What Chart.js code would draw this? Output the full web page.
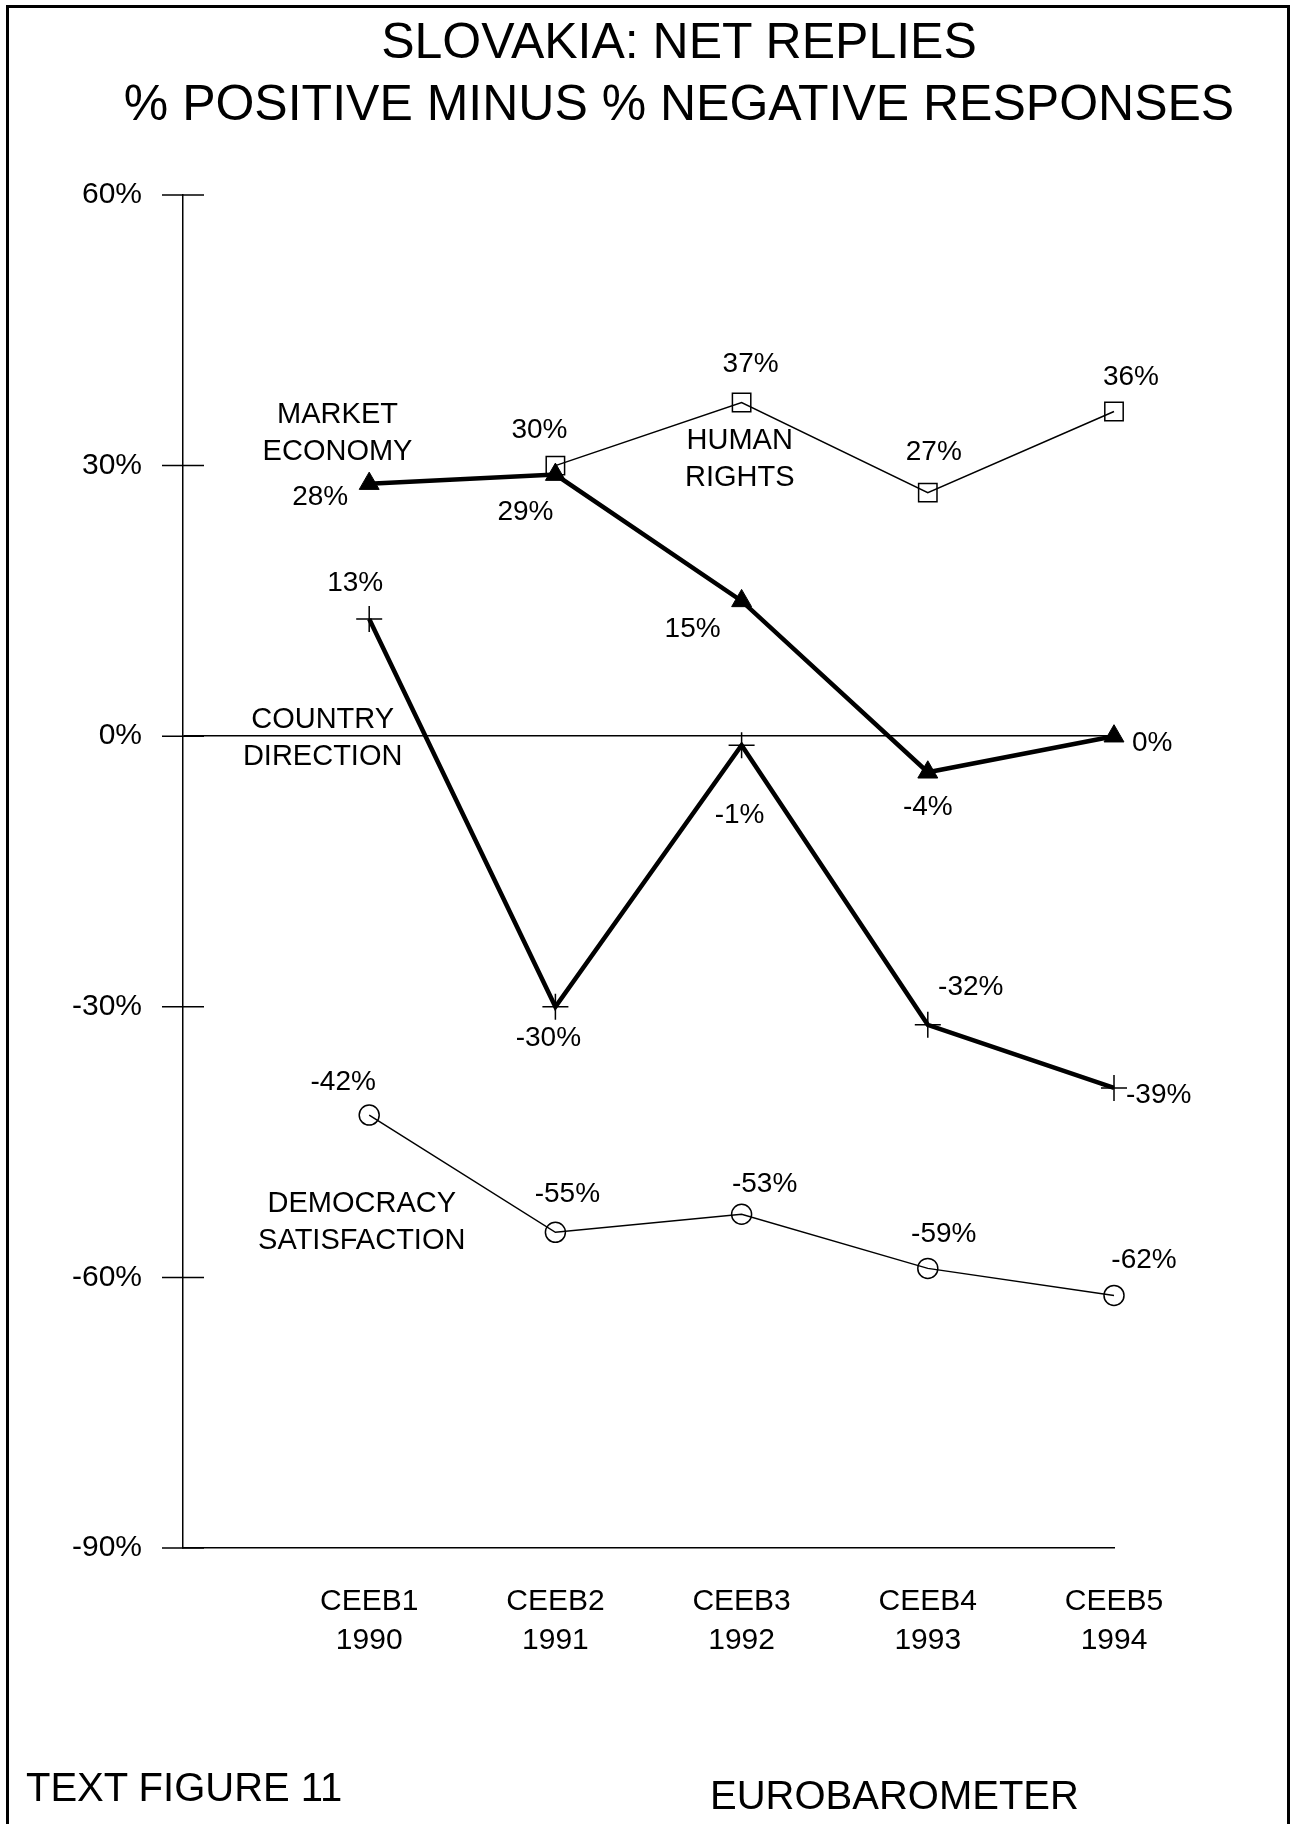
<!DOCTYPE html>
<html>
<head>
<meta charset="utf-8">
<script src="https://cdn.jsdelivr.net/npm/chart.js@4/dist/chart.umd.min.js"></script>
<style>
  html, body { margin: 0; padding: 0; background: #fff; }
  #wrap { position: relative; width: 1290px; height: 1824px; overflow: hidden; }
  #frame { position: absolute; left: 6px; top: 5px; width: 1278px; height: 1830px;
           border-left: 3px solid #000; border-top: 3px solid #000; border-right: 3px solid #000; }
  canvas { position: absolute; left: 0; top: 0; }
  .t { position: absolute; font-family: "Liberation Sans", Arial, Helvetica, sans-serif; color: #000; white-space: nowrap; }
  #title1 { left: 0; width: 1358px; text-align: center; top: 12px; font-size: 50px; }
  #title2 { left: 0; width: 1358px; text-align: center; top: 74px; font-size: 50px; }
  #foot1 { left: 26px; top: 1765px; font-size: 40px; }
  #foot2 { left: 710px; top: 1773px; font-size: 40px; }
</style>
</head>
<body>
<div id="wrap">
  <canvas id="c" width="1290" height="1824"></canvas>
  <div id="frame"></div>
  <div class="t" id="title1">SLOVAKIA: NET REPLIES</div>
  <div class="t" id="title2">% POSITIVE MINUS % NEGATIVE RESPONSES</div>
  <div class="t" id="foot1">TEXT FIGURE 11</div>
  <div class="t" id="foot2">EUROBAROMETER</div>
</div>
<script>
// ---- data ----
const surveys = ['CEEB1', 'CEEB2', 'CEEB3', 'CEEB4', 'CEEB5'];
const years = ['1990', '1991', '1992', '1993', '1994'];
const humanRights = [null, 30, 37, 27, 36];
const marketEconomy = [28, 29, 15, -4, 0];
const countryDirection = [13, -30, -1, -32, -39];
const democracySatisfaction = [-42, -55, -53, -59, -62];
const yTicks = [60, 30, 0, -30, -60, -90];

// ---- label placement (pixel offsets from each point; styling only) ----
const hrOffsets = [null, [-16, -35], [9, -38], [6, -40], [17, -34]];
const meOffsets = [[-49, 14], [-30, 38], [-49, 28], [0, 35], [18, 7, 'left']];
const cdOffsets = [[-14, -36], [-7, 31], [-2, 70], [43, -38], [12, 7, 'left']];
const dsOffsets = [[-26, -33], [12, -38], [23, -30], [16, -34], [30, -35]];

// series name annotations, anchored in data units (x = category position, y = %)
const seriesNames = [
  { lines: ['MARKET', 'ECONOMY'], x: 0.83, y: 33.6 },
  { lines: ['HUMAN', 'RIGHTS'], x: 2.99, y: 30.7 },
  { lines: ['COUNTRY', 'DIRECTION'], x: 0.75, y: -0.2 },
  { lines: ['DEMOCRACY', 'SATISFACTION'], x: 0.96, y: -53.9 }
];

const FONT = '"Liberation Sans", Arial, Helvetica, sans-serif';

function pts(arr) {
  return arr.map((v, i) => (v === null ? null : { x: i + 1, y: v })).filter(p => p !== null);
}

const datasets = [
  { label: 'HUMAN RIGHTS', data: pts(humanRights), borderColor: '#000', borderWidth: 1.5,
    pointStyle: 'rect', pointRadius: 13, pointBorderWidth: 1.5,
    pointBackgroundColor: 'rgba(0,0,0,0)', pointBorderColor: '#000', offsets: hrOffsets.filter(o => o) },
  { label: 'MARKET ECONOMY', data: pts(marketEconomy), borderColor: '#000', borderWidth: 4.5,
    pointStyle: 'triangle', pointRadius: 11.5, pointBorderWidth: 1,
    pointBackgroundColor: '#000', pointBorderColor: '#000', offsets: meOffsets },
  { label: 'COUNTRY DIRECTION', data: pts(countryDirection), borderColor: '#000', borderWidth: 4.5,
    pointStyle: 'cross', pointRadius: 13, pointBorderWidth: 1.5,
    pointBackgroundColor: 'rgba(0,0,0,0)', pointBorderColor: '#000', offsets: cdOffsets },
  { label: 'DEMOCRACY SATISFACTION', data: pts(democracySatisfaction), borderColor: '#000', borderWidth: 1.5,
    pointStyle: 'circle', pointRadius: 10, pointBorderWidth: 1.5,
    pointBackgroundColor: 'rgba(0,0,0,0)', pointBorderColor: '#000', offsets: dsOffsets }
];

const decorPlugin = {
  id: 'decor',
  afterDatasetsDraw(chart) {
    const ctx = chart.ctx;
    const ys = chart.scales.y, xs = chart.scales.x;
    const ax = xs.getPixelForValue(0);
    ctx.save();
    // crossing tick marks on the y axis
    ctx.strokeStyle = '#000';
    ctx.lineWidth = 1.5;
    yTicks.forEach(v => {
      const py = ys.getPixelForValue(v);
      ctx.beginPath();
      ctx.moveTo(ax - 21, py);
      ctx.lineTo(ax + 21, py);
      ctx.stroke();
    });
    // value labels
    ctx.fillStyle = '#000';
    ctx.font = '28px ' + FONT;
    ctx.textBaseline = 'middle';
    chart.data.datasets.forEach((ds, di) => {
      const meta = chart.getDatasetMeta(di);
      meta.data.forEach((el, i) => {
        const o = ds.offsets[i];
        const v = ds.data[i].y;
        ctx.textAlign = o[2] === 'left' ? 'left' : 'center';
        ctx.fillText(v + '%', el.x + o[0], el.y + o[1]);
      });
    });
    // series names
    ctx.textAlign = 'center';
    ctx.font = '29px ' + FONT;
    seriesNames.forEach(s => {
      const px = xs.getPixelForValue(s.x);
      const py = ys.getPixelForValue(s.y);
      const lh = 37;
      const y0 = py - (s.lines.length - 1) * lh / 2;
      s.lines.forEach((ln, k) => ctx.fillText(ln, px, y0 + k * lh));
    });
    ctx.restore();
  }
};

new Chart(document.getElementById('c'), {
  type: 'line',
  data: { datasets },
  options: {
    responsive: false,
    animation: false,
    devicePixelRatio: 1,
    clip: false,
    layout: { padding: { top: 195, right: 176, left: 0, bottom: 0 } },
    plugins: { legend: { display: false }, tooltip: { enabled: false }, title: { display: false } },
    elements: { line: { tension: 0, borderJoinStyle: 'miter' } },
    datasets: { line: { clip: false } },
    scales: {
      x: {
        type: 'linear', min: 0, max: 5,
        afterFit(scale) { scale.height = 276; },
        afterBuildTicks(scale) { scale.ticks = [0, 1, 2, 3, 4, 5].map(v => ({ value: v })); },
        grid: { display: false, drawTicks: false },
        border: { display: true, color: '#000', width: 1.5 },
        ticks: {
          padding: 34,
          color: '#000',
          font: { family: FONT, size: 30, lineHeight: 1.3 },
          maxRotation: 0,
          autoSkip: false,
          callback: (v) => (v >= 1 && v <= 5 ? [surveys[v - 1], years[v - 1]] : '')
        }
      },
      y: {
        type: 'linear', min: -90, max: 60,
        afterFit(scale) { scale.width = 183; },
        afterBuildTicks(scale) { scale.ticks = yTicks.map(v => ({ value: v })); },
        grid: {
          drawTicks: false,
          color: (c) => (c.tick && c.tick.value === 0 ? '#000' : 'rgba(0,0,0,0)'),
          lineWidth: 1.5
        },
        border: { display: true, color: '#000', width: 1.5 },
        ticks: {
          padding: 41,
          color: '#000',
          font: { family: FONT, size: 30 },
          callback: (v) => v + '%'
        }
      }
    }
  },
  plugins: [decorPlugin]
});
</script>
</body>
</html>
